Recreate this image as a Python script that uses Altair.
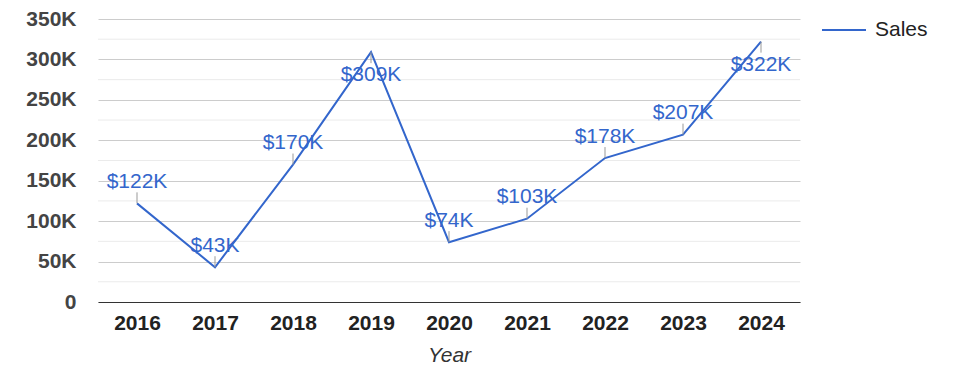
import altair as alt
import pandas as pd

years = ["2016", "2017", "2018", "2019", "2020", "2021", "2022", "2023", "2024"]
sales = [122000, 43000, 170000, 309000, 74000, 103000, 178000, 207000, 322000]
series_name = ["Sales"]
major_ticks = [0, 50000, 100000, 150000, 200000, 250000, 300000, 350000]
minor_ticks = [25000, 75000, 125000, 175000, 225000, 275000, 325000]

df = pd.DataFrame({"Year": years, "Sales": sales})
FONT = "Liberation Sans, Arial, sans-serif"
BLUE = "#3366cc"

base = alt.Chart(df).transform_calculate(
    label="'$' + round(datum.Sales / 1000) + 'K'"
)

y_scale = alt.Scale(domain=[0, 350000], nice=False)
y_axis = alt.Axis(
    values=major_ticks,
    labelExpr="datum.value === 0 ? '0' : (datum.value / 1000) + 'K'",
    labelFont=FONT, labelFontSize=21, labelFontWeight="bold",
    labelColor="#444444", labelPadding=22, ticks=False, domain=False,
    gridColor="#cccccc", gridWidth=1,
)

x = alt.X(
    "Year:O",
    title="Year",
    scale=alt.Scale(type="point", padding=0.5),
    axis=alt.Axis(
        labelAngle=0, labelFont=FONT, labelFontSize=21, labelFontWeight="bold",
        labelColor="#222222", labelPadding=10, ticks=False,
        domainColor="#333333", domainWidth=1,
        titleFont=FONT, titleFontSize=21, titleFontStyle="italic",
        titleFontWeight="normal", titleColor="#333333", titlePadding=11,
    ),
)
y = alt.Y("Sales:Q", title=None, scale=y_scale, axis=y_axis)

minor = alt.Chart(pd.DataFrame({"v": minor_ticks})).mark_rule(
    color="#ebebeb", strokeWidth=1
).encode(y=alt.Y("v:Q", title=None, scale=y_scale, axis=y_axis),
         x=alt.value(0), x2=alt.value(702))

line = base.mark_line(color=BLUE, strokeWidth=2).encode(x=x, y=y)

above = "datum.Sales <= 300000"
below = "datum.Sales > 300000"

stem_up = base.transform_filter(above).mark_rule(color="#999999", strokeWidth=1, y2Offset=-11).encode(
    x="Year:O", y="Sales:Q", y2="Sales:Q")
stem_down = base.transform_filter(below).mark_rule(color="#999999", strokeWidth=1, y2Offset=11).encode(
    x="Year:O", y="Sales:Q", y2="Sales:Q")

txt_up = base.transform_filter(above).mark_text(
    font=FONT, fontSize=21, color=BLUE, dy=-21.5, baseline="middle", align="center"
).encode(x="Year:O", y="Sales:Q", text="label:N")
txt_down = base.transform_filter(below).mark_text(
    font=FONT, fontSize=21, color=BLUE, dy=23, baseline="middle", align="center"
).encode(x="Year:O", y="Sales:Q", text="label:N")

leg_data = alt.Data(values=[{"s": s} for s in series_name])
leg_line = alt.Chart(leg_data).mark_rule(color=BLUE, strokeWidth=2).encode(
    x=alt.value(724), x2=alt.value(768), y=alt.value(11))
leg_text = alt.Chart(leg_data).mark_text(
    font=FONT, fontSize=21, color="#222222", align="left", baseline="middle"
).encode(x=alt.value(777), y=alt.value(11), text="s:N")

chart = alt.layer(minor, line, stem_up, stem_down, txt_up, txt_down, leg_line, leg_text).properties(
    width=702, height=283,
    autosize=alt.AutoSizeParams(type="none"),
    padding={"left": 90, "top": 11, "right": 167, "bottom": 68},
).configure_view(stroke=None)

chart.save("out.html", embed_options={"renderer": "svg", "actions": False})
